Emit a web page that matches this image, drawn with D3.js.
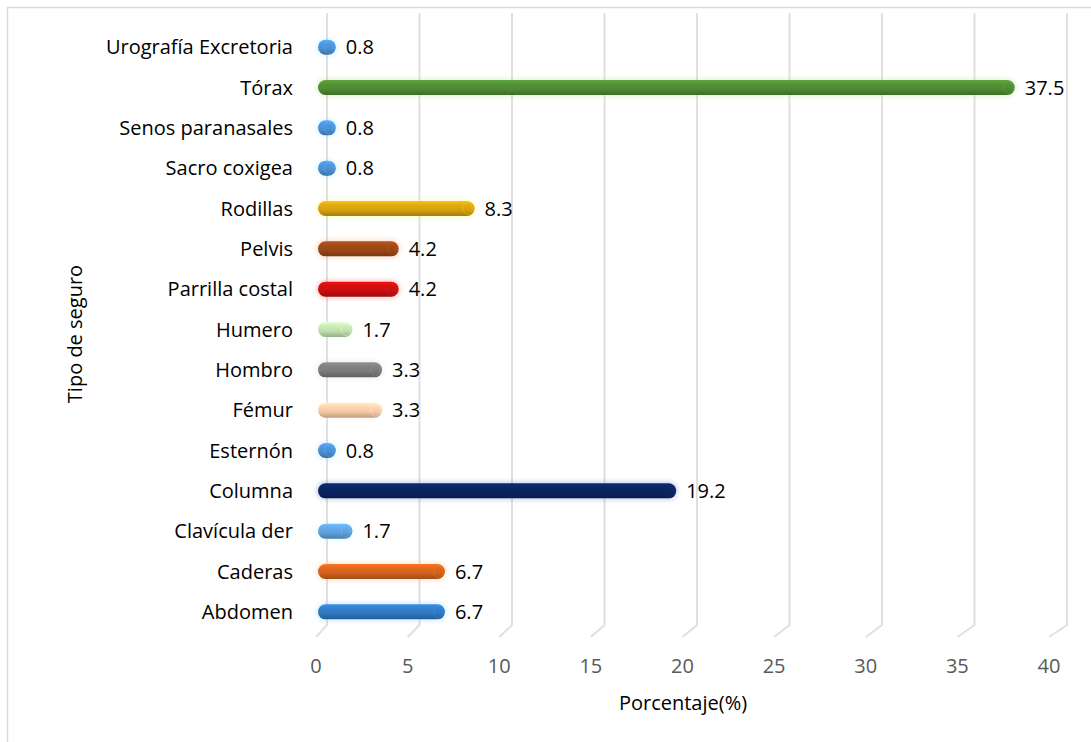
<!DOCTYPE html>
<html>
<head>
<meta charset="utf-8">
<script src="https://cdn.jsdelivr.net/npm/d3@7"></script>
<style>
  html, body { margin: 0; padding: 0; background: #fff; }
  svg { display: block; }
  text { font-family: "Open Sans", "Noto Sans", sans-serif; }
</style>
</head>
<body>
<svg id="chart" width="1091" height="742"></svg>
<script>
// Exam types, bottom to top
const categories = [
  "Abdomen", "Caderas", "Clavícula der", "Columna", "Esternón",
  "Fémur", "Hombro", "Humero", "Parrilla costal", "Pelvis",
  "Rodillas", "Sacro coxigea", "Senos paranasales", "Tórax", "Urografía Excretoria"
];
const values = [6.7, 6.7, 1.7, 19.2, 0.8, 3.3, 3.3, 1.7, 4.2, 4.2, 8.3, 0.8, 0.8, 37.5, 0.8];
const barColors = [
  "#2f78c0", "#d2621c", "#5fa0dc", "#0c2360", "#4a8fd2",
  "#f6c9a6", "#7a7a7a", "#bfe0ae", "#c81010", "#9a4617",
  "#d4a10f", "#4a8fd2", "#4a8fd2", "#4f8a32", "#4a8fd2"
];
const xTicks = [0, 5, 10, 15, 20, 25, 30, 35, 40];
const xTitle = "Porcentaje(%)";
const yTitle = "Tipo de seguro";

const svg = d3.select("#chart");
const defs = svg.append("defs");

// Front (floor edge) scale carries tick labels; back-wall scale carries grid and bars
const xFront = d3.scaleLinear().domain([0, 40]).range([316, 1049]);
const xBack = d3.scaleLinear().domain([0, 40]).range([327, 1067]);
const y = d3.scaleBand().domain(categories.slice().reverse()).range([27, 632]);

const wallTop = 13, wallBottom = 625, floorFront = 637;

// outer frame (top and left edges)
svg.append("path")
  .attr("d", "M7.5,742 V7.5 H1091")
  .attr("fill", "none").attr("stroke", "#d9d9d9").attr("stroke-width", 1.5);

// gridlines: vertical on the back wall, slanting across the floor
svg.append("g").selectAll("path").data(xTicks).join("path")
  .attr("d", t => `M${xBack(t)},${wallTop} V${wallBottom} L${xFront(t)},${floorFront}`)
  .attr("fill", "none").attr("stroke", "#e0e0e0").attr("stroke-width", 2);

// soft glow behind the bars
defs.append("filter").attr("id", "glow")
  .attr("x", "-20%").attr("y", "-80%").attr("width", "140%").attr("height", "260%")
  .append("feGaussianBlur").attr("stdDeviation", 2);

const barH = 15;
const rows = categories.map((c, i) => ({ c, v: values[i], col: barColors[i], i }));

rows.forEach(d => {
  const base = d3.color(d.col);
  const g = defs.append("linearGradient").attr("id", "cyl" + d.i)
    .attr("x1", 0).attr("y1", 0).attr("x2", 0).attr("y2", 1);
  g.append("stop").attr("offset", "0%").attr("stop-color", base.brighter(0.5));
  g.append("stop").attr("offset", "30%").attr("stop-color", base.brighter(0.15));
  g.append("stop").attr("offset", "60%").attr("stop-color", base);
  g.append("stop").attr("offset", "100%").attr("stop-color", base.darker(0.7));
});

const barStart = xBack(0) - 9;
const barEnd = v => xBack(v) - 6;

const bars = svg.append("g").selectAll("g").data(rows).join("g")
  .attr("transform", d => `translate(0,${y(d.c) + y.bandwidth() / 2})`);

bars.append("rect")
  .attr("x", barStart - 2).attr("y", -barH / 2 - 2)
  .attr("width", d => barEnd(d.v) - barStart + 4).attr("height", barH + 4)
  .attr("rx", barH / 2 + 2)
  .attr("fill", d => d3.color(d.col).brighter(1.2))
  .attr("opacity", 0.2)
  .attr("filter", "url(#glow)");

bars.append("rect")
  .attr("x", barStart).attr("y", -barH / 2)
  .attr("width", d => barEnd(d.v) - barStart).attr("height", barH)
  .attr("rx", barH / 2)
  .attr("fill", d => `url(#cyl${d.i})`);

// cylinder end cap
bars.append("ellipse")
  .attr("cx", d => barEnd(d.v) - barH * 0.45).attr("cy", 0)
  .attr("rx", barH * 0.3).attr("ry", barH / 2 - 1.5)
  .attr("fill", "none")
  .attr("stroke", d => d3.color(d.col).brighter(0.7))
  .attr("stroke-opacity", 0.35).attr("stroke-width", 1);

// value labels
bars.append("text")
  .attr("x", d => barEnd(d.v) + 10).attr("y", 0).attr("dy", "0.35em")
  .attr("font-size", 20).attr("fill", "#000")
  .text(d => d.v.toFixed(1));

// category labels
svg.append("g").selectAll("text").data(categories).join("text")
  .attr("x", 293).attr("y", d => y(d) + y.bandwidth() / 2).attr("dy", "0.35em")
  .attr("text-anchor", "end").attr("font-size", 20).attr("fill", "#000")
  .text(d => d);

// x tick labels
svg.append("g").selectAll("text").data(xTicks).join("text")
  .attr("x", d => xFront(d)).attr("y", 673)
  .attr("text-anchor", "middle").attr("font-size", 20).attr("fill", "#595959")
  .text(d => d);

// axis titles
svg.append("text")
  .attr("x", 683).attr("y", 710)
  .attr("text-anchor", "middle").attr("font-size", 20).attr("fill", "#000")
  .text(xTitle);

svg.append("text")
  .attr("transform", "translate(82,334) rotate(-90)")
  .attr("text-anchor", "middle").attr("font-size", 20).attr("fill", "#000")
  .text(yTitle);
</script>
</body>
</html>
